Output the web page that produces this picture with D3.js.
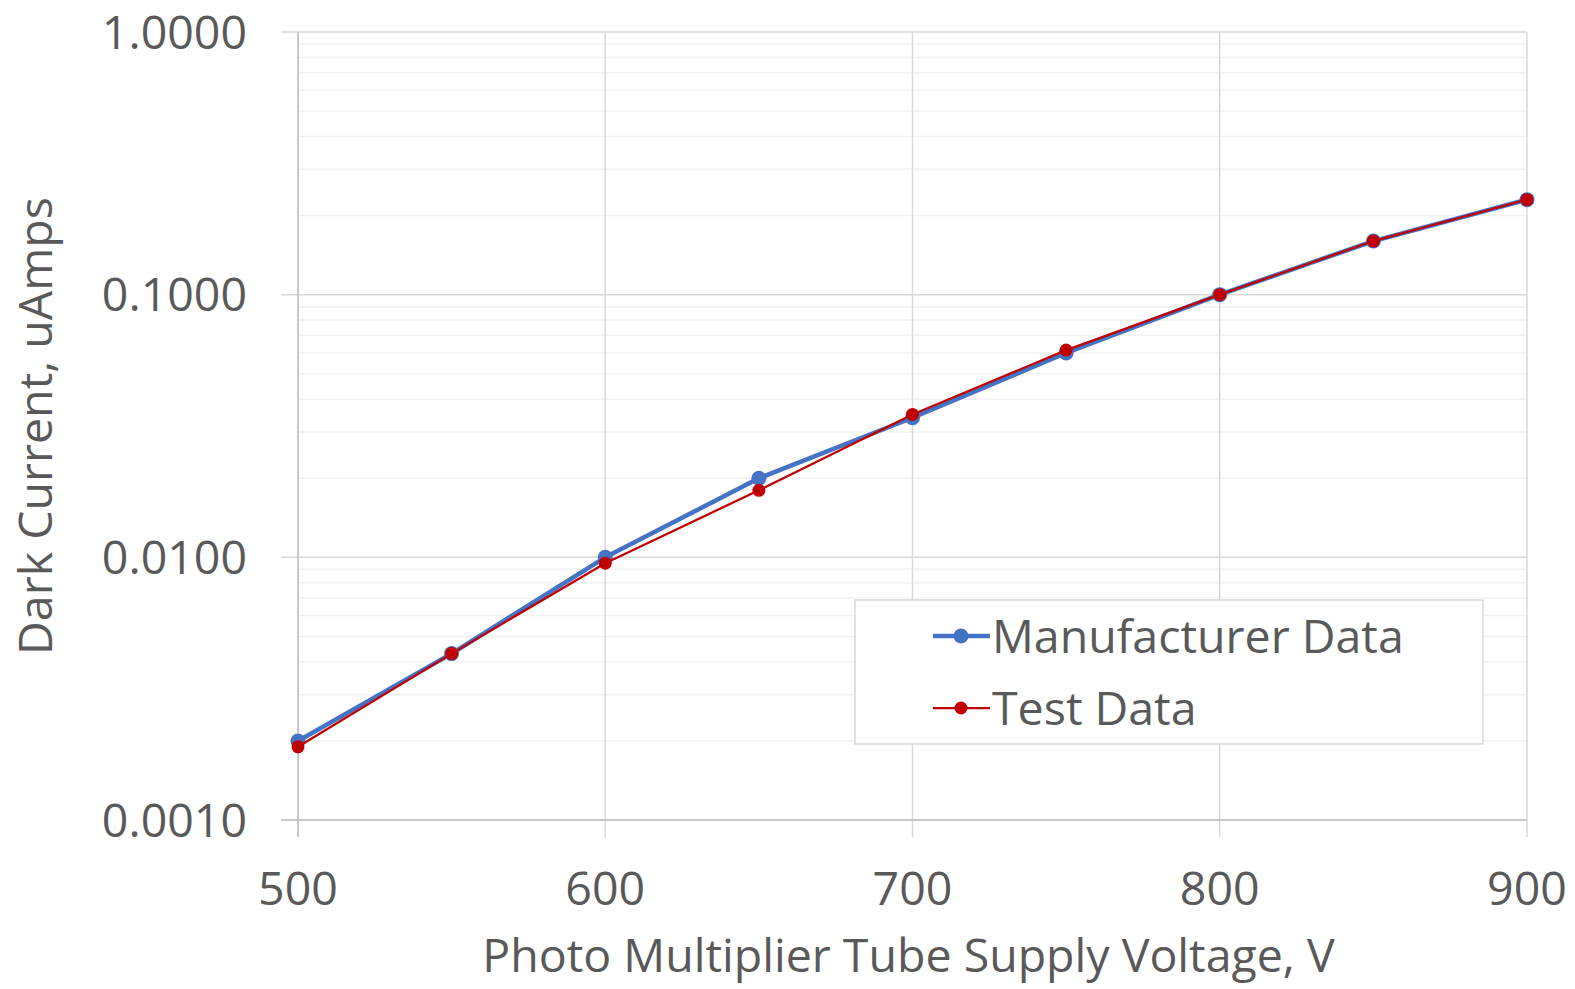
<!DOCTYPE html>
<html>
<head>
<meta charset="utf-8">
<script src="https://cdn.jsdelivr.net/npm/d3@7"></script>
<style>
	body { margin: 0; background: #fff; }
	text { font-family: "Open Sans", "Noto Sans", sans-serif; fill: #595959; font-size: 46.5px; }
</style>
</head>
<body>
<svg id="chart" width="1575" height="989"></svg>
<script>
"use strict";

var voltages = [500, 550, 600, 650, 700, 750, 800, 850, 900];
var manufacturer_data = [0.0020, 0.0043, 0.0100, 0.0200, 0.0340, 0.0600, 0.1000, 0.1600, 0.2300];
var test_data = [0.0019, 0.0043, 0.0095, 0.0180, 0.0350, 0.0615, 0.1000, 0.1600, 0.2300];
var x_ticks = [500, 600, 700, 800, 900];
var y_ticks = [0.001, 0.01, 0.1, 1];
var series_names = ["Manufacturer Data", "Test Data"];

var plot_left = 298, plot_right = 1527, plot_top = 32, plot_bottom = 820;

var svg = d3.select("#chart");

var x = d3.scaleLinear().domain([500, 900]).range([plot_left, plot_right]);
var y = d3.scaleLog().domain([0.001, 1]).range([plot_bottom, plot_top]);

//minor gridlines (2..9 within each decade)
var minor = [];
y_ticks.slice(0, -1).forEach(function(d) {
	for(var k = 2; k <= 9; k++) minor.push(d * k);
});

svg.append("g").selectAll("line").data(minor).enter().append("line")
	.attr("x1", plot_left).attr("x2", plot_right)
	.attr("y1", function(d) { return y(d); })
	.attr("y2", function(d) { return y(d); })
	.attr("stroke", "#f2f2f2").attr("stroke-width", 1.5);

//major gridlines
svg.append("g").selectAll("line").data(y_ticks).enter().append("line")
	.attr("x1", plot_left - 17).attr("x2", plot_right)
	.attr("y1", function(d) { return y(d); })
	.attr("y2", function(d) { return y(d); })
	.attr("stroke", "#d9d9d9").attr("stroke-width", 1.5);

svg.append("g").selectAll("line").data(x_ticks).enter().append("line")
	.attr("x1", function(d) { return x(d); })
	.attr("x2", function(d) { return x(d); })
	.attr("y1", plot_top).attr("y2", plot_bottom + 17)
	.attr("stroke", "#d9d9d9").attr("stroke-width", 1.5);

//axis lines
svg.append("line").attr("x1", plot_left).attr("x2", plot_left).attr("y1", plot_top).attr("y2", plot_bottom + 17)
	.attr("stroke", "#bfbfbf").attr("stroke-width", 1.5);
svg.append("line").attr("x1", plot_left - 17).attr("x2", plot_right).attr("y1", plot_bottom).attr("y2", plot_bottom)
	.attr("stroke", "#bfbfbf").attr("stroke-width", 1.5);

//tick labels
svg.append("g").selectAll("text").data(y_ticks).enter().append("text")
	.attr("x", 247)
	.attr("y", function(d) { return y(d); })
	.attr("dy", "0.36em")
	.attr("text-anchor", "end")
	.text(function(d) { return d3.format(".4f")(d); });

svg.append("g").selectAll("text").data(x_ticks).enter().append("text")
	.attr("x", function(d) { return x(d); })
	.attr("y", 905)
	.attr("text-anchor", "middle")
	.text(function(d) { return d; });

//axis titles
svg.append("text")
	.attr("x", (plot_left + plot_right) / 2 - 4)
	.attr("y", 972)
	.attr("text-anchor", "middle")
	.text("Photo Multiplier Tube Supply Voltage, V");

svg.append("text")
	.attr("transform", "translate(52," + ((plot_top + plot_bottom) / 2) + ") rotate(-90)")
	.attr("text-anchor", "middle")
	.text("Dark Current, uAmps");

//series
var series = [
	{ name: series_names[0], values: manufacturer_data, color: "#4472C4", width: 4.5, r: 7.5 },
	{ name: series_names[1], values: test_data, color: "#C00000", width: 2.25, r: 6.5 }
];

var line = d3.line()
	.x(function(d, i) { return x(voltages[i]); })
	.y(function(d) { return y(d); });

series.forEach(function(s) {
	svg.append("path")
		.attr("d", line(s.values))
		.attr("fill", "none")
		.attr("stroke", s.color)
		.attr("stroke-width", s.width)
		.attr("stroke-linejoin", "round");

	svg.append("g").selectAll("circle").data(s.values).enter().append("circle")
		.attr("cx", function(d, i) { return x(voltages[i]); })
		.attr("cy", function(d) { return y(d); })
		.attr("r", s.r)
		.attr("fill", s.color);
});

//legend
var legend = svg.append("g");
legend.append("rect")
	.attr("x", 855).attr("y", 600).attr("width", 628).attr("height", 144)
	.attr("fill", "#fff").attr("stroke", "#d9d9d9").attr("stroke-width", 1.5);

series.forEach(function(s, i) {
	var ly = 636 + i * 72;
	legend.append("line")
		.attr("x1", 933).attr("x2", 990).attr("y1", ly).attr("y2", ly)
		.attr("stroke", s.color).attr("stroke-width", s.width);
	legend.append("circle")
		.attr("cx", 961).attr("cy", ly).attr("r", s.r).attr("fill", s.color);
	legend.append("text")
		.attr("x", 992).attr("y", ly).attr("dy", "0.36em")
		.text(s.name);
});
</script>
</body>
</html>
